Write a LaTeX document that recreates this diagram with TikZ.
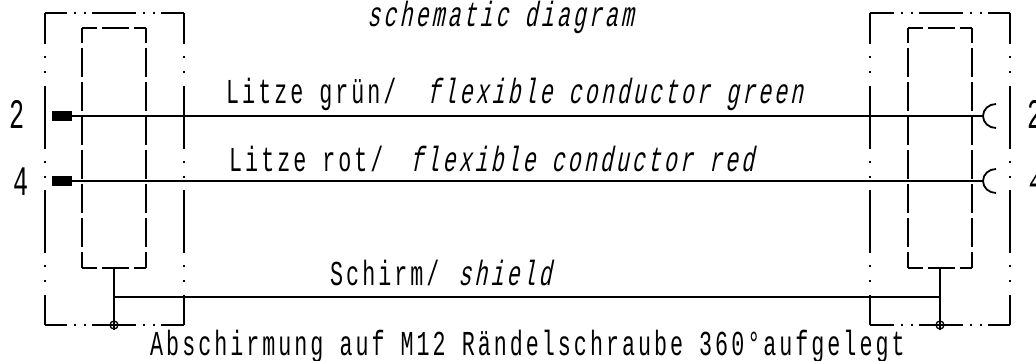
\documentclass[tikz,border=0pt]{standalone}
\usepackage{fontspec}
\setmainfont[FakeStretch=0.62,LetterSpace=8.6]{Liberation Mono}
\newfontfamily\slantfont[FakeStretch=0.62,FakeSlant=0.2,LetterSpace=8.6]{Liberation Mono}
\newfontfamily\digitfont[FakeStretch=0.6]{Liberation Mono}
\newfontfamily\digitslant[FakeStretch=0.6,FakeSlant=0.2]{Liberation Mono}
\tikzset{
  x=1pt,y=-1pt,
  wire/.style={line width=1.8pt,black},
  outerline/.style={line width=1.8pt,black},
  innerline/.style={line width=1.8pt,black},
  padbox/.style={fill=black,draw=none,minimum width=20pt,minimum height=10pt,inner sep=0pt,outer sep=0pt},
  lab/.style={inner sep=0pt,font=\fontsize{35}{37}\selectfont,anchor=base west},
  sl/.style={lab,font=\fontsize{35}{37}\selectfont\slantfont},
  dig/.style={lab,font=\fontsize{42}{44}\selectfont\digitfont},
  digs/.style={lab,font=\fontsize{42}{44}\selectfont\digitslant},
  gnd/.style={circle,draw=black,line width=1.3pt,fill=none,minimum size=8pt,inner sep=0pt},
}
\newcommand{\outerbox}[3]{%
 \draw[outerline,dash pattern=on 44pt off 7pt on 2pt off 8pt on 2pt off 6pt,dash phase=#3pt] (#1,13)--(#2,13);
 \draw[outerline,dash pattern=on 44pt off 7pt on 2pt off 8pt on 2pt off 6pt,dash phase=#3pt] (#1,325)--(#2,325);
 \draw[outerline,dash pattern=on 63pt off 12pt on 2pt off 13pt on 2pt off 12.5pt,dash phase=32pt] (#1,13)--(#1,325);
 \draw[outerline,dash pattern=on 63pt off 12pt on 2pt off 13pt on 2pt off 12.5pt,dash phase=32pt] (#2,13)--(#2,325);
}
\newcommand{\innerbox}[2]{%
 \draw[innerline,dash pattern=on 29pt off 5pt,dash phase=14pt] (#1,28)--(#1,268);
 \draw[innerline,dash pattern=on 29pt off 5pt,dash phase=14pt] (#2,28)--(#2,268);
 \draw[innerline,dash pattern=on 27pt off 5pt,dash phase=12pt] (#1,28)--(#2,28);
 \draw[innerline,dash pattern=on 27pt off 5pt,dash phase=12pt] (#1,268)--(#2,268);
}
\begin{document}
\begin{tikzpicture}
\useasboundingbox (0,0) rectangle (1036,361);
\outerbox{45}{184}{22}
\outerbox{870}{1010}{20}
\innerbox{82}{146}
\innerbox{908}{972}
\node[padbox] (p2) at (62,116) {};
\node[padbox] (p4) at (62,181) {};
\coordinate (s2) at (983,116);
\coordinate (s4) at (983,181);
\draw[wire] (p2.east) -- (s2);
\draw[wire] (p4.east) -- (s4);
\foreach \s in {s2,s4}{
  \draw[wire] (\s) arc[start angle=180,end angle=90,x radius=13pt,y radius=12pt];
  \draw[wire] (\s) arc[start angle=180,end angle=270,x radius=13pt,y radius=12pt];
}
\coordinate (lt) at (114,268);
\coordinate (rt) at (940,268);
\node[gnd] (lg) at (114,325) {};
\node[gnd] (rg) at (940,325) {};
\coordinate (lj) at (114,297);
\coordinate (rj) at (940,297);
\draw[wire] (lt) -- (lg.south);
\draw[wire] (rt) -- (rg.south);
\draw[wire] (lj) -- (rj);
\node[dig] (a) at (9,128) {2};
\node[dig] (b) at (13,195) {4};
\node[dig] (c) at (1027,128) {2};
\node[digs] (d) at (1027,193) {4};
\node[sl] (t) at (367,27) {schematic diagram};
\node[lab] (g) at (226,103) {Litze grün/};
\node[sl] (g2) at (427,103) {flexible conductor green};
\node[lab] (r) at (229,171) {Litze rot/};
\node[sl] (r2) at (410,171) {flexible conductor red};
\node[lab] (s) at (330,285) {Schirm/};
\node[sl] (s2t) at (458,285) {shield};
\node[lab] (f) at (150,355) {Abschirmung auf M12 Rändelschraube 360°aufgelegt};
\end{tikzpicture}
\end{document}
